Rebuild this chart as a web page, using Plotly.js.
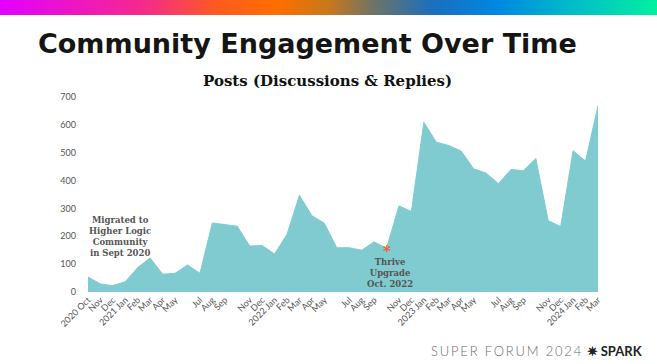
<!DOCTYPE html>
<html><head><meta charset="utf-8">
<script src="https://cdn.plot.ly/plotly-3.0.1.min.js"></script>
<style>
html,body{margin:0;padding:0;background:#fff;}
#wrap{position:relative;width:657px;height:364px;overflow:hidden;}
#bar{position:absolute;left:0;top:0;width:657px;height:15px;z-index:5;
background:linear-gradient(90deg,#e400ff 0%,#f52a8a 22%,#ff5a20 33%,#ff6d00 42%,#c8781a 50%,#6c7468 57%,#1a6fc0 66%,#0088e0 76%,#00bcc8 87%,#00f0a0 100%);}
#chart{position:absolute;left:0;top:0;width:657px;height:364px;}
</style></head>
<body><div id="wrap"><div id="bar"></div><div id="chart"></div></div>
<script>
const months = ["2020-10","2020-11","2020-12","2021-01","2021-02","2021-03","2021-04","2021-05","2021-06","2021-07","2021-08","2021-09","2021-10","2021-11","2021-12","2022-01","2022-02","2022-03","2022-04","2022-05","2022-06","2022-07","2022-08","2022-09","2022-10","2022-11","2022-12","2023-01","2023-02","2023-03","2023-04","2023-05","2023-06","2023-07","2023-08","2023-09","2023-10","2023-11","2023-12","2024-01","2024-02","2024-03"];
const posts = [54,29,23,37,88,122,64,67,97,67,248,243,236,165,167,136,207,347,274,247,159,159,150,180,157,309,289,609,538,526,506,442,427,389,440,435,479,256,235,507,470,669];
const tickMonths = ["2020-10","2020-11","2020-12","2021-01","2021-02","2021-03","2021-04","2021-05","2021-07","2021-08","2021-09","2021-11","2021-12","2022-01","2022-02","2022-03","2022-04","2022-05","2022-07","2022-08","2022-09","2022-11","2022-12","2023-01","2023-02","2023-03","2023-04","2023-05","2023-07","2023-08","2023-09","2023-11","2023-12","2024-01","2024-02","2024-03"];
const tickLabels = ["2020 Oct","Nov","Dec","2021 Jan","Feb","Mar","Apr","May","Jul","Aug","Sep","Nov","Dec","2022 Jan","Feb","Mar","Apr","May","Jul","Aug","Sep","Nov","Dec","2023 Jan","Feb","Mar","Apr","May","Jul","Aug","Sep","Nov","Dec","2024 Jan","Feb","Mar"];
const yTicks = [0,100,200,300,400,500,600,700];
const thriveMonth = "2022-10";
const thriveValue = posts[months.indexOf(thriveMonth)];

const slab = "DejaVu Serif";
const data = [{
  x: months, y: posts, type: "scatter", mode: "lines",
  fill: "tozeroy", fillcolor: "#80cbd0",
  line: {color: "#80cbd0", width: 1, shape: "linear"},
  hoverinfo: "x+y"
}];
const layout = {
  width: 657, height: 364,
  margin: {l: 88, r: 59, t: 97, b: 72},
  paper_bgcolor: "#fff", plot_bgcolor: "#fff",
  showlegend: false,
  xaxis: {
    type: "category", range: [0, months.length - 1],
    tickvals: tickMonths, ticktext: tickLabels, tickangle: -45,
    tickfont: {family: "Lato, sans-serif", size: 9, color: "#555"},
    showgrid: false, zeroline: false, showline: false, ticks: ""
  },
  yaxis: {
    range: [0, 700], tickvals: yTicks, showgrid: false, zeroline: false, showline: false,
    tickfont: {family: "Lato, sans-serif", size: 9, color: "#555"},
    ticks: "", ticklabelstandoff: 11
  },
  annotations: [
    {xref: "paper", yref: "paper", x: -0.102, y: 1.275, xanchor: "left", yanchor: "middle",
     text: "Community Engagement Over Time", showarrow: false,
     font: {family: "DejaVu Sans, sans-serif", size: 27, color: "#151515", weight: 700}},
    {xref: "paper", yref: "paper", x: 0.47, y: 1.08, xanchor: "center", yanchor: "middle",
     text: "Posts (Discussions & Replies)", showarrow: false,
     font: {family: slab, size: 15, color: "#111", weight: 700}},
    {xref: "x", yref: "y", x: 2.6, y: 282, xanchor: "center", yanchor: "top",
     text: "Migrated to<br>Higher Logic<br>Community<br>in Sept 2020", showarrow: false,
     font: {family: slab, size: 8.5, color: "#555", weight: 700}},
    {xref: "x", yref: "y", x: thriveMonth, y: thriveValue, xanchor: "center", yanchor: "middle",
     text: "*", showarrow: false, yshift: -3,
     font: {family: slab, size: 15, color: "#e8622a", weight: 700}},
    {xref: "x", yref: "y", x: thriveMonth, y: 134, xanchor: "center", yanchor: "top",
     text: "Thrive<br>Upgrade<br>Oct. 2022", showarrow: false, xshift: 3,
     font: {family: slab, size: 8.5, color: "#555", weight: 700}},
    {xref: "paper", yref: "paper", x: 1.092, y: -0.30, xanchor: "right", yanchor: "middle",
     text: "<span style='letter-spacing:1.8px'>SUPER FORUM 2024</span> <b style='color:#222'>✷ SPARK</b>", showarrow: false,
     font: {family: "Lato, sans-serif", size: 13, color: "#6a6a6a", weight: 300}}
  ]
};
Plotly.newPlot("chart", data, layout, {displayModeBar: false, staticPlot: true});
</script></body></html>
